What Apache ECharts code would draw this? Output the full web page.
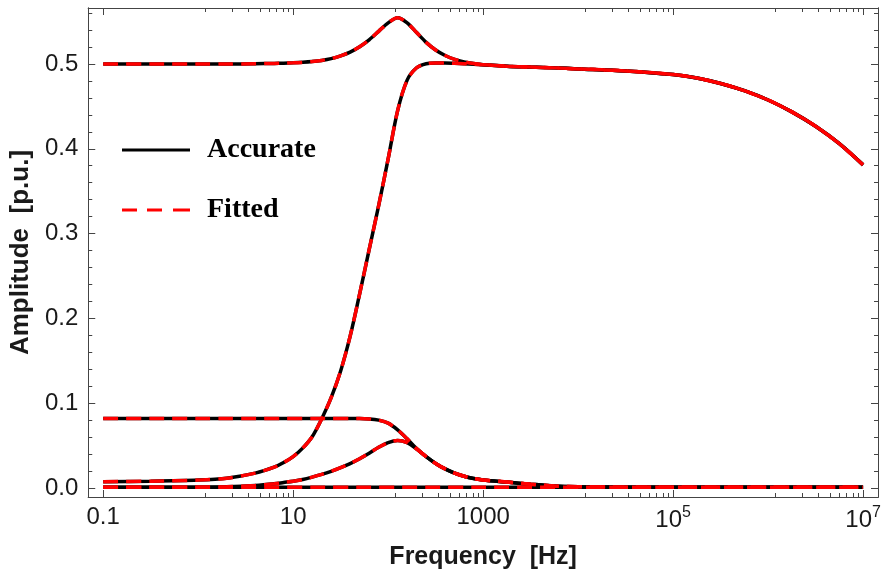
<!DOCTYPE html>
<html>
<head>
<meta charset="utf-8">
<script src="https://cdn.jsdelivr.net/npm/echarts@6/dist/echarts.min.js"></script>
<style>
html,body{margin:0;padding:0;background:#fff;}
#chart{width:885px;height:582px;}
</style>
</head>
<body>
<div id="chart"></div>
<script>
// Frequencies (Hz) at which the curves were read
const freqHz = [0.1, 0.3162, 1, 1.995, 3.981, 6.31, 7.943, 10, 12.59, 15.85, 19.95, 25.12, 31.62, 39.81, 50.12,
  63.1, 79.43, 100, 125.9, 158.5, 199.5, 251.2, 316.2, 398.1, 501.2, 631, 794.3, 1000, 1778, 3162, 5623,
  1e4, 3.162e4, 1e5, 1.778e5, 3.162e5, 5.623e5, 1e6, 1.778e6, 3.162e6, 5.623e6, 1e7];

// Amplitude curves [p.u.]
const ampPeak = [0.500, 0.500, 0.500, 0.500, 0.5003, 0.5006, 0.5009, 0.5013, 0.5019, 0.5028, 0.5042, 0.5063, 0.5095, 0.514, 0.5203,
  0.5285, 0.5385, 0.5485, 0.5545, 0.5485, 0.537, 0.5255, 0.5165, 0.5100, 0.5055, 0.5025, 0.5005, 0.4992, 0.4974, 0.4964, 0.4954,
  0.4942, 0.4918, 0.4875, 0.4835, 0.4770, 0.4685, 0.4575, 0.4435, 0.4265, 0.4060, 0.381];
const ampRise = [0.0075, 0.008, 0.0093, 0.0115, 0.0175, 0.0245, 0.030, 0.037, 0.047, 0.0605, 0.0815, 0.1065, 0.138, 0.179, 0.229,
  0.281, 0.333, 0.388, 0.445, 0.481, 0.4955, 0.5003, 0.5012, 0.5012, 0.5008, 0.5003, 0.4998, 0.4992, 0.4974, 0.4964, 0.4954,
  0.4942, 0.4918, 0.4875, 0.4835, 0.4770, 0.4685, 0.4575, 0.4435, 0.4265, 0.4060, 0.381];
const ampPlateau = [0.082, 0.082, 0.082, 0.082, 0.082, 0.082, 0.082, 0.082, 0.082, 0.082, 0.082, 0.082, 0.082, 0.082, 0.082,
  0.0815, 0.0800, 0.0765, 0.0685, 0.0580, 0.0465, 0.0370, 0.0290, 0.0225, 0.0175, 0.0138, 0.0112, 0.0095, 0.0070, 0.0045, 0.0023,
  0.0015, 0.0009, 0.0008, 0.0008, 0.0008, 0.0008, 0.0008, 0.0008, 0.0008, 0.0008, 0.0008];
const ampBump = [0.0008, 0.0009, 0.001, 0.0015, 0.003, 0.005, 0.0065, 0.008, 0.010, 0.0128, 0.016, 0.0197, 0.024, 0.0288, 0.0345,
  0.041, 0.048, 0.0535, 0.056, 0.0535, 0.046, 0.0370, 0.0290, 0.0225, 0.0175, 0.0138, 0.0112, 0.0095, 0.0070, 0.0045, 0.0023,
  0.0015, 0.0009, 0.0008, 0.0008, 0.0008, 0.0008, 0.0008, 0.0008, 0.0008, 0.0008, 0.0008];
const ampFlat = [0.0008, 0.0008, 0.0008, 0.0008, 0.0008, 0.0008, 0.0008, 0.0008, 0.0008, 0.0008, 0.0008, 0.0008, 0.0008, 0.0008, 0.0008,
  0.0008, 0.0008, 0.0008, 0.0008, 0.0008, 0.0008, 0.0008, 0.0008, 0.0008, 0.0008, 0.0008, 0.0008, 0.0008, 0.0008, 0.0008, 0.0008,
  0.0008, 0.0008, 0.0008, 0.0008, 0.0008, 0.0008, 0.0008, 0.0008, 0.0008, 0.0008, 0.0008];

// Tick labels
const xTickExp = [-1, 1, 3, 5, 7];
const xTickLabels = ['0.1', '10', '1000', '10{s|5}', '10{s|7}'];
const yTickValues = [0, 0.1, 0.2, 0.3, 0.4, 0.5];
const yTickLabels = ['0.0', '0.1', '0.2', '0.3', '0.4', '0.5'];
const legendNames = ['Accurate', 'Fitted'];

const curves = [ampPeak, ampRise, ampPlateau, ampBump, ampFlat];

const XMIN = -1.157, XMAX = 7.157;
const YMIN = -0.0106, YMAX = 0.566;

// minor ticks: linear subdivisions between majors (log axis)
const xMinor = [];
for (let i = 0; i < xTickExp.length - 1; i++) {
  const a = Math.pow(10, xTickExp[i]), b = Math.pow(10, xTickExp[i + 1]);
  for (let k = 1; k <= 8; k++) xMinor.push(Math.log10(a + k * (b - a) / 9));
}
const yMinor = [];
for (let i = 1; i * 0.02 < YMAX; i++) {
  if (i % 5 !== 0) yMinor.push(Math.round(i * 2) / 100);
}

const AX = '#444';
const TXT = '#1a1a1a';
function xAx(pos, vals, len, labels) {
  return {
    type: 'value', position: pos, min: XMIN, max: XMAX,
    axisLine: { show: true, onZero: false, lineStyle: { color: AX, width: 1 } },
    axisTick: { show: true, inside: true, length: len, customValues: vals, lineStyle: { color: AX, width: 1 } },
    axisLabel: labels ? {
      show: true, customValues: xTickExp, margin: 8,
      fontFamily: 'Liberation Sans', fontSize: 24, color: TXT,
      formatter: v => xTickLabels[xTickExp.indexOf(Math.round(v))],
      rich: { s: { fontFamily: 'Liberation Sans', fontSize: 16, color: TXT, verticalAlign: 'top', lineHeight: 30, padding: [0, 0, 12, 0] } }
    } : { show: false },
    splitLine: { show: false },
    name: labels && pos === 'bottom' ? 'Frequency  [Hz]' : '',
    nameLocation: 'middle', nameGap: 48,
    nameTextStyle: { fontFamily: 'Liberation Sans', fontWeight: 'bold', fontSize: 25, color: TXT }
  };
}
function yAx(pos, vals, len, labels) {
  return {
    type: 'value', position: pos, min: YMIN, max: YMAX,
    axisLine: { show: true, onZero: false, lineStyle: { color: AX, width: 1 } },
    axisTick: { show: true, inside: true, length: len, customValues: vals, lineStyle: { color: AX, width: 1 } },
    axisLabel: labels ? {
      show: true, customValues: yTickValues, margin: 10,
      fontFamily: 'Liberation Sans', fontSize: 24, color: TXT,
      formatter: v => yTickLabels[yTickValues.findIndex(t => Math.abs(t - v) < 1e-6)]
    } : { show: false },
    splitLine: { show: false },
    name: labels && pos === 'left' ? 'Amplitude  [p.u.]' : '',
    nameLocation: 'middle', nameGap: 52,
    nameTextStyle: { fontFamily: 'Liberation Sans', fontWeight: 'bold', fontSize: 26, color: TXT }
  };
}

const series = [];
[0, 1].forEach(kind => {
  curves.forEach(c => {
    series.push({
      name: legendNames[kind],
      type: 'line',
      xAxisIndex: 0, yAxisIndex: 0,
      data: freqHz.map((f, i) => [Math.log10(f), c[i]]),
      showSymbol: false, symbol: 'none',
      smooth: 0.3,
      lineStyle: kind === 0
        ? { color: '#000', width: 3.5, type: 'solid' }
        : { color: '#ff0000', width: 3.5, type: [15, 8] },
      itemStyle: { color: kind === 0 ? '#000' : '#ff0000' },
      z: kind === 0 ? 2 : 3,
      animation: false
    });
  });
});

const chart = echarts.init(document.getElementById('chart'), null, { renderer: 'canvas' });
chart.setOption({
  animation: false,
  backgroundColor: '#fff',
  grid: { left: 86, right: 7, top: 8, bottom: 85, show: false, containLabel: false },
  xAxis: [
    xAx('bottom', xTickExp, 7, true),
    xAx('bottom', xMinor, 4, false),
    xAx('top', xTickExp, 7, false),
    xAx('top', xMinor, 4, false)
  ],
  yAxis: [
    yAx('left', yTickValues, 7, true),
    yAx('left', yMinor, 4, false),
    yAx('right', yTickValues, 7, false),
    yAx('right', yMinor, 4, false)
  ],
  legend: {
    data: [
      { name: legendNames[0], icon: 'path://M0,0h68v3h-68z' },
      { name: legendNames[1], icon: 'path://M0,0h15v3h-15zM25,0h15v3h-15zM51,0h17v3h-17z' }
    ],
    orient: 'vertical', left: 122, top: 135, padding: 0,
    itemWidth: 68, itemHeight: 3, itemGap: 30,
    textStyle: { fontFamily: 'Liberation Serif', fontWeight: 'bold', fontSize: 28, color: '#000', lineHeight: 30, padding: [0, 0, 0, 12] },
    selectedMode: false
  },
  series: series
});
</script>
</body>
</html>
